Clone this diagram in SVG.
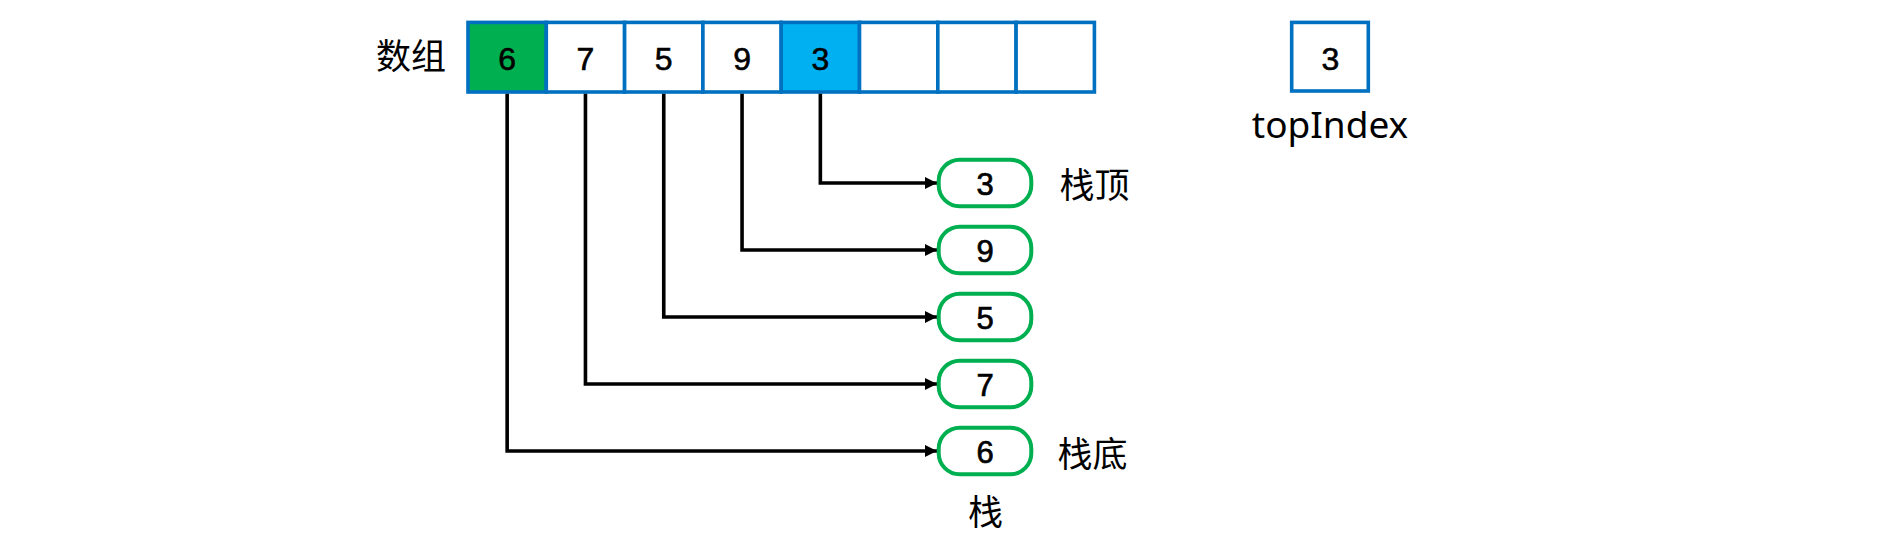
<svg xmlns="http://www.w3.org/2000/svg" width="1877" height="544" viewBox="0 0 1877 544">
<defs>
<style>
.cell{fill:#FFFFFF;stroke:#0070C0;stroke-width:3.6}
.num{font-family:"Liberation Sans",Arial,sans-serif;font-size:32px;fill:#000;stroke:#000;stroke-width:0.6;text-anchor:middle}
.snum{font-family:"Liberation Sans",Arial,sans-serif;font-size:31px;fill:#000;stroke:#000;stroke-width:0.7;text-anchor:middle}
.cjk{font-family:"Noto Sans CJK SC","Noto Sans",sans-serif;font-size:35px;fill:#000;text-anchor:middle}
.lat{font-family:"Noto Sans","Liberation Sans",sans-serif;font-size:37px;fill:#000;text-anchor:middle}
.snode{fill:#FFFFFF;stroke:#00B050;stroke-width:4}
.conn{fill:none;stroke:#000;stroke-width:3.6}
</style>
<marker id="arr" markerWidth="12" markerHeight="12" refX="12" refY="6" orient="auto" markerUnits="userSpaceOnUse">
<path d="M0,0 L12,6 L0,12 Z" fill="#000"/>
</marker>
</defs>
<rect width="1877" height="544" fill="#FFFFFF"/>

<g id="label-array"><text class="cjk" x="411" y="69">数组</text></g>

<g id="array">
<g id="cell0"><rect class="cell" x="468" y="22.4" width="78.3" height="69.6" style="fill:#00B050"/><text class="num" x="507.15" y="70">6</text></g>
<g id="cell1"><rect class="cell" x="546.3" y="22.4" width="78.3" height="69.6"/><text class="num" x="585.45" y="70">7</text></g>
<g id="cell2"><rect class="cell" x="624.6" y="22.4" width="78.3" height="69.6"/><text class="num" x="663.75" y="70">5</text></g>
<g id="cell3"><rect class="cell" x="702.9" y="22.4" width="78.3" height="69.6"/><text class="num" x="742.05" y="70">9</text></g>
<g id="cell4"><rect class="cell" x="781.2" y="22.4" width="78.3" height="69.6" style="fill:#00B0F0"/><text class="num" x="820.35" y="70">3</text></g>
<g id="cell5"><rect class="cell" x="859.5" y="22.4" width="78.3" height="69.6"/></g>
<g id="cell6"><rect class="cell" x="937.8" y="22.4" width="78.3" height="69.6"/></g>
<g id="cell7"><rect class="cell" x="1016.1" y="22.4" width="78.3" height="69.6"/></g>
</g>

<g id="topIndex">
<rect class="cell" x="1291.7" y="22.4" width="76.6" height="68.6"/>
<text class="num" x="1330.5" y="70">3</text>
<text class="lat" x="1330" y="138">topIndex</text>
</g>

<g id="connectors">
<path class="conn" d="M820.35,93.7 V183 H937" marker-end="url(#arr)"/>
<path class="conn" d="M742.05,93.7 V250 H937" marker-end="url(#arr)"/>
<path class="conn" d="M663.75,93.7 V317 H937" marker-end="url(#arr)"/>
<path class="conn" d="M585.45,93.7 V384 H937" marker-end="url(#arr)"/>
<path class="conn" d="M507.15,93.7 V451 H937" marker-end="url(#arr)"/>
</g>

<g id="stack">
<g id="s3"><rect class="snode" x="938.7" y="159.7" width="92.6" height="46.6" rx="21" ry="21"/><text class="snum" x="985" y="195">3</text></g>
<g id="s9"><rect class="snode" x="938.7" y="226.7" width="92.6" height="46.6" rx="21" ry="21"/><text class="snum" x="985" y="262">9</text></g>
<g id="s5"><rect class="snode" x="938.7" y="293.7" width="92.6" height="46.6" rx="21" ry="21"/><text class="snum" x="985" y="329">5</text></g>
<g id="s7"><rect class="snode" x="938.7" y="360.7" width="92.6" height="46.6" rx="21" ry="21"/><text class="snum" x="985" y="396">7</text></g>
<g id="s6"><rect class="snode" x="938.7" y="427.7" width="92.6" height="46.6" rx="21" ry="21"/><text class="snum" x="985" y="463">6</text></g>
</g>

<g id="label-top"><text class="cjk" x="1094.5" y="198">栈顶</text></g>
<g id="label-bottom"><text class="cjk" x="1092.5" y="467">栈底</text></g>
<g id="label-stack"><text class="cjk" x="985.5" y="525">栈</text></g>
</svg>
